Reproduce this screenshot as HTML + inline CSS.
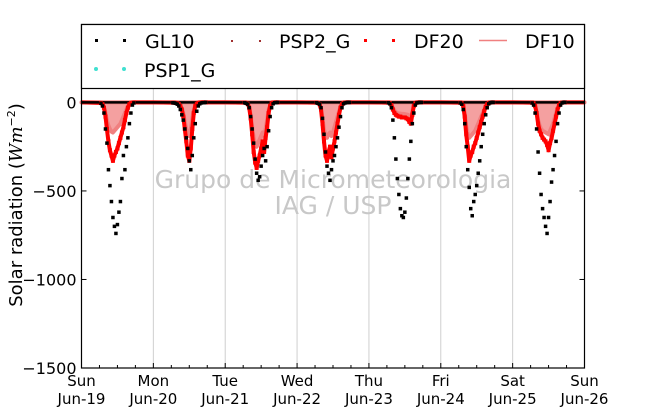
<!DOCTYPE html>
<html><head><meta charset="utf-8"><style>
html,body{margin:0;padding:0;background:#fff}
svg text{font-family:"DejaVu Sans","Liberation Sans",sans-serif}
</style></head><body>
<svg id="chart" width="650" height="409" viewBox="0 0 650 409" xmlns="http://www.w3.org/2000/svg">
<g id="grid"></g>
<g fill="#c8c8c8" font-size="25" text-anchor="middle">
<text x="333" y="188">Grupo de Micrometeorologia</text>
<text x="333" y="214">IAG / USP</text>
</g>
<g id="series"></g>
<g id="axes"></g>
<text transform="translate(22,205) rotate(-90)" text-anchor="middle" font-size="18">Solar radiation (<tspan font-style="italic" font-family="DejaVu Serif, serif">Wm</tspan><tspan font-size="11" dy="-7">−2</tspan><tspan dy="7">)</tspan></text>
<g>
<rect x="81.5" y="24.5" width="503" height="64" fill="#fff" stroke="#000" stroke-width="1.2"/>
<g><rect x="95" y="39" width="3" height="3" fill="#000"/><rect x="123" y="39" width="3" height="3" fill="#000"/><text x="145" y="48" font-size="19">GL10</text></g>
<g><rect x="231" y="40" width="2" height="2" fill="#a03030"/><rect x="259" y="40" width="2" height="2" fill="#a03030"/><text x="279" y="48" font-size="19">PSP2_G</text></g>
<g><rect x="364" y="39" width="3" height="3" fill="#f00"/><rect x="392" y="39" width="3" height="3" fill="#f00"/><text x="414" y="48" font-size="19">DF20</text></g>
<g><line x1="479" y1="40.5" x2="507" y2="40.5" stroke="#f08080" stroke-width="1.5"/><text x="525" y="48" font-size="19">DF10</text></g>
<g><circle cx="96" cy="69" r="2" fill="#40e0d0"/><circle cx="124" cy="69" r="2" fill="#40e0d0"/><text x="144" y="77" font-size="19">PSP1_G</text></g>
</g>
</svg>
<script>
const dayLabels=["Sun","Mon","Tue","Wed","Thu","Fri","Sat","Sun"];
const dateLabels=["Jun-19","Jun-20","Jun-21","Jun-22","Jun-23","Jun-24","Jun-25","Jun-26"];
const yTicks=[0,-500,-1000,-1500];
const hours=[6.5,7,7.5,8,8.5,9,9.5,10,10.5,11,11.5,12,12.5,13,13.5,14,14.5,15,15.5,16,16.5,17,17.5];
const gl10=[
[-5,-20,-60,-150,-230,-380,-470,-560,-650,-700,-740,-690,-620,-560,-430,-300,-380,-250,-200,-120,-60,-15,-3],
[-2,-3,-5,-10,-20,-40,-70,-100,-150,-200,-260,-330,-380,-300,-200,-120,-50,-20,-8,-3,-2,-1,0],
[-2,-5,-10,-30,-80,-150,-230,-320,-400,-440,-420,-360,-300,-260,-330,-250,-160,-80,-30,-8,-2,-1,0],
[-2,-5,-10,-30,-90,-180,-280,-360,-400,-440,-380,-330,-300,-250,-200,-140,-80,-30,-8,-3,-1,0,0],
[-2,-8,-30,-100,-200,-320,-430,-520,-600,-640,-650,-620,-540,-430,-320,-220,-120,-60,-15,-3,-1,0,0],
[-3,-10,-40,-120,-250,-380,-480,-600,-640,-560,-520,-470,-400,-330,-250,-180,-120,-70,-30,-8,-2,0,0],
[-3,-15,-60,-150,-280,-400,-520,-600,-650,-700,-740,-650,-560,-450,-380,-300,-220,-120,-60,-15,-3,0,0]];
const df20=[
[-3,-10,-30,-80,-150,-220,-270,-300,-330,-300,-280,-260,-230,-200,-170,-140,-100,-60,-30,-10,-3,-1,0],
[-1,-2,-3,-5,-10,-20,-40,-80,-150,-220,-300,-330,-260,-150,-60,-20,-8,-3,-1,0,0,0,0],
[-1,-3,-8,-30,-90,-180,-280,-340,-370,-330,-300,-260,-220,-280,-200,-140,-60,-20,-5,-1,0,0,0],
[-1,-3,-10,-40,-120,-220,-300,-330,-280,-250,-310,-260,-220,-170,-120,-70,-30,-10,-3,-1,0,0,0],
[-1,-5,-15,-40,-60,-70,-75,-80,-80,-85,-85,-85,-90,-95,-110,-120,-70,-20,-5,-1,0,0,0],
[-1,-5,-20,-80,-180,-250,-330,-300,-280,-250,-230,-200,-170,-140,-110,-80,-50,-25,-10,-3,-1,0,0],
[-1,-5,-20,-60,-120,-160,-180,-200,-210,-220,-240,-270,-230,-200,-160,-120,-80,-40,-15,-5,-1,0,0]];
const df10=[
[-2,-8,-25,-60,-100,-130,-150,-165,-170,-160,-150,-140,-130,-120,-100,-80,-60,-40,-20,-8,-2,0,0],
[-1,-2,-3,-5,-8,-15,-30,-60,-110,-150,-180,-190,-150,-90,-40,-15,-5,-2,-1,0,0,0,0],
[-1,-2,-6,-25,-70,-140,-200,-240,-250,-230,-210,-190,-170,-200,-150,-100,-40,-15,-4,-1,0,0,0],
[-1,-2,-8,-30,-90,-150,-190,-200,-180,-170,-190,-170,-140,-110,-80,-50,-20,-8,-2,0,0,0,0],
[-1,-3,-10,-30,-45,-55,-60,-62,-63,-65,-65,-66,-68,-70,-80,-90,-50,-15,-3,-1,0,0,0],
[-1,-3,-15,-60,-130,-180,-200,-190,-180,-170,-160,-140,-120,-100,-80,-60,-40,-20,-8,-2,0,0,0],
[-1,-3,-15,-50,-100,-130,-150,-160,-165,-170,-175,-180,-160,-140,-120,-90,-60,-30,-10,-3,0,0,0]];

const X0=81.5,X1=584.5,Y0=24.5,Y1=368,VMAX=440,VMIN=-1500,TMAX=168;
function xs(t){return X0+(t/TMAX)*(X1-X0);}
function ys(v){return Y1-(v-VMIN)/(VMAX-VMIN)*(Y1-Y0);}
const NS="http://www.w3.org/2000/svg";
function mk(tag,attrs,parent){const e=document.createElementNS(NS,tag);for(const k in attrs)e.setAttribute(k,attrs[k]);parent.appendChild(e);return e;}
const grid=document.getElementById('grid'),ser=document.getElementById('series'),ax=document.getElementById('axes');
for(let d=1;d<7;d++){const g=mk('line',{x1:xs(d*24),x2:xs(d*24),y1:Y0,y2:Y1,stroke:'#cfcfcf','stroke-width':1},grid);

}
function pathOf(arr,d){
 let p='M'+xs(d*24).toFixed(1)+','+ys(0).toFixed(1);
 for(let i=0;i<hours.length;i++){p+='L'+xs(d*24+hours[i]).toFixed(1)+','+ys(arr[d][i]).toFixed(1);}
 return p+'L'+xs(d*24+24).toFixed(1)+','+ys(0).toFixed(1);
}
// DF10 band
for(let d=0;d<7;d++){
 const a=mk('path',{d:pathOf(df10,d)+'Z',fill:'#f4a0a0',stroke:'#f08080','stroke-width':4,'stroke-linejoin':'round'},ser);
 
 
}
// DF20 band
for(let d=0;d<7;d++){
 const a=mk('path',{d:pathOf(df20,d),fill:'none',stroke:'#f00','stroke-width':4,'stroke-linejoin':'round'},ser);
 
 
}
const z=mk('line',{x1:X0,x2:X1,y1:ys(0),y2:ys(0),stroke:'#000','stroke-width':2.5},ser);


function dots(arr,color,size,name){
 for(let d=0;d<7;d++)for(let i=0;i<hours.length;i++){
  const r=mk('rect',{x:xs(d*24+hours[i])-size/2,y:ys(arr[d][i])-size/2,width:size,height:size,fill:color},ser);
  
  
 }
}
dots(df20,'#f00',4,'df20-point');
dots(gl10,'#000',3.5,'gl10-point');
const frame=mk('rect',{x:X0,y:Y0,width:X1-X0,height:Y1-Y0,fill:'none',stroke:'#000','stroke-width':1.2},ax);


yTicks.forEach(v=>{
 mk('line',{x1:X0,x2:X0+5,y1:ys(v),y2:ys(v),stroke:'#000'},ax);
 mk('line',{x1:X1,x2:X1-5,y1:ys(v),y2:ys(v),stroke:'#000'},ax);
 const t=mk('text',{x:X0-5,y:ys(v)+6,'text-anchor':'end','font-size':16},ax);
 t.textContent=v<0?'\u2212'+(-v):String(v);
 
 
});
for(let h=6;h<TMAX;h+=6){mk('line',{x1:xs(h),x2:xs(h),y1:Y1,y2:Y1-(h%24?3:5),stroke:'#000'},ax);}
dayLabels.forEach((lab,d)=>{
 const t=mk('text',{x:xs(d*24),y:386,'text-anchor':'middle','font-size':15},ax);
 t.textContent=lab;
 
 
 const t2=mk('text',{x:xs(d*24),y:404,'text-anchor':'middle','font-size':15},ax);
 t2.textContent=dateLabels[d];
 
 
});
</script>
</body></html>
